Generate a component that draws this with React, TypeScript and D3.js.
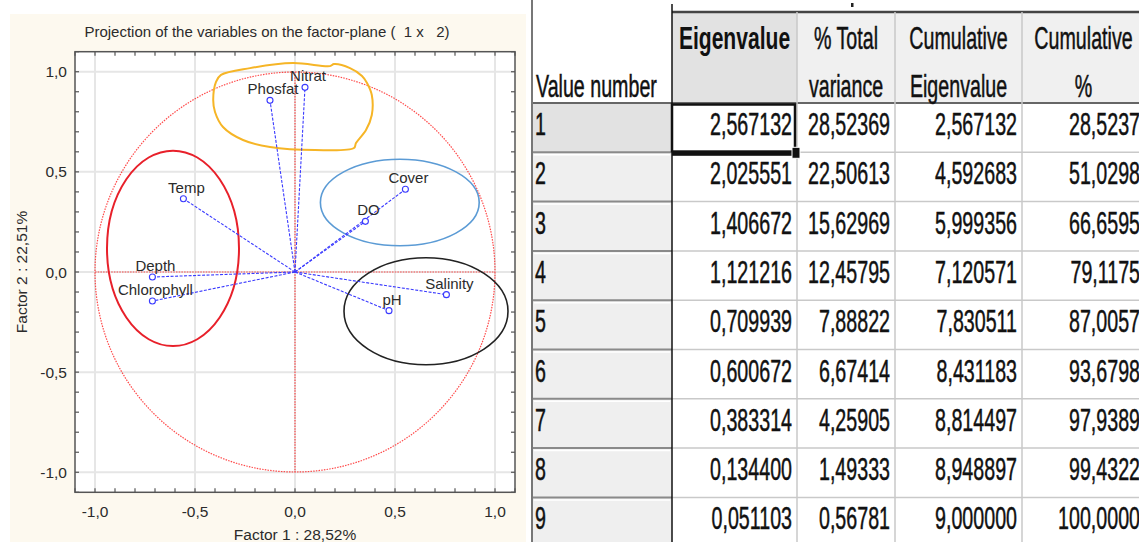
import React, { useRef, useEffect } from 'react';
import * as d3 from 'd3';

// Loadings of the variables on factors 1 and 2
const variableNames = ['Nitrat', 'Phosfat', 'Temp', 'Cover', 'DO', 'Depth', 'Chlorophyll', 'Salinity', 'pH'];
const factor1 = [0.05, -0.125, -0.558, 0.552, 0.352, -0.713, -0.713, 0.757, 0.47];
const factor2 = [0.922, 0.857, 0.366, 0.413, 0.253, -0.025, -0.145, -0.113, -0.193];

const majorTicks = [-1, -0.5, 0, 0.5, 1];

// Hand-drawn group markers (factor units): center x, center y, radius x, radius y
const groupEllipses = [
  { cx: -0.61, cy: 0.118, rx: 0.33, ry: 0.488, color: '#e8202a', width: 2 },
  { cx: 0.524, cy: 0.347, rx: 0.397, ry: 0.216, color: '#5b9bd5', width: 1.6 },
  { cx: 0.655, cy: -0.196, rx: 0.41, ry: 0.267, color: '#222222', width: 1.6 },
];
const freehandX = [-0.409, -0.395, -0.37, -0.225, -0.01, 0.175, 0.195, 0.275, 0.335, 0.36, 0.384, 0.384, 0.355, 0.305, 0.295, 0.1, -0.125, -0.26, -0.36, -0.4];
const freehandY = [0.859, 0.949, 0.984, 1.018, 1.043, 1.028, 1.038, 1.018, 0.979, 0.944, 0.884, 0.784, 0.709, 0.644, 0.619, 0.609, 0.624, 0.659, 0.724, 0.799];

// Eigenvalue table
const valueNumbers = ['1', '2', '3', '4', '5', '6', '7', '8', '9'];
const eigenvalues = ['2,567132', '2,025551', '1,406672', '1,121216', '0,709939', '0,600672', '0,383314', '0,134400', '0,051103'];
const pctTotal = ['28,52369', '22,50613', '15,62969', '12,45795', '7,88822', '6,67414', '4,25905', '1,49333', '0,56781'];
const cumEigen = ['2,567132', '4,592683', '5,999356', '7,120571', '7,830511', '8,431183', '8,814497', '8,948897', '9,000000'];
const cumPct = ['28,5237', '51,0298', '66,6595', '79,1175', '87,0057', '93,6798', '97,9389', '99,4322', '100,0000'];
const headers = [['', 'Value number'], ['Eigenvalue', ''], ['% Total', 'variance'], ['Cumulative', 'Eigenvalue'], ['Cumulative', '%']];

const W = 1139;
const H = 542;
const FONT = 'Liberation Sans, Arial, sans-serif';

const App = () => {
  const svgRef = useRef<SVGSVGElement>(null);

  useEffect(() => {
    if (!svgRef.current) return;
    const svg = d3.select(svgRef.current);
    svg.selectAll('*').remove();

    const locale = d3.formatLocale({ decimal: ',', thousands: '.', grouping: [3], currency: ['', ''], minus: '-' });
    const fmt = locale.format('.1f');

    // ---------- left panel: correlation circle ----------
    svg.append('rect').attr('x', 10).attr('y', 14).attr('width', 516).attr('height', H - 14).attr('fill', '#fdf9ef');

    const x = d3.scaleLinear().domain([-1.1, 1.1]).range([75, 515]);
    const y = d3.scaleLinear().domain([-1.1, 1.1]).range([492.3, 51.7]);

    svg.append('text')
      .attr('x', 267).attr('y', 37)
      .attr('text-anchor', 'middle')
      .attr('font-family', FONT).attr('font-size', 15).attr('fill', '#2b2b2b')
      .attr('xml:space', 'preserve')
      .text('Projection of the variables on the factor-plane (  1 x   2)');

    svg.append('rect')
      .attr('x', x(-1.1)).attr('y', y(1.1))
      .attr('width', x(1.1) - x(-1.1)).attr('height', y(-1.1) - y(1.1))
      .attr('fill', '#fff');

    // grid
    const grid = svg.append('g');
    grid.selectAll('line.gx').data(majorTicks).enter().append('line')
      .attr('x1', d => x(d)).attr('x2', d => x(d))
      .attr('y1', y(1.1)).attr('y2', y(-1.1))
      .attr('stroke', '#e6e6e6').attr('stroke-width', 2);
    grid.selectAll('line.gy').data(majorTicks).enter().append('line')
      .attr('x1', x(-1.1)).attr('x2', x(1.1))
      .attr('y1', d => y(d)).attr('y2', d => y(d))
      .attr('stroke', '#e6e6e6').attr('stroke-width', 2);

    // unit circle and zero lines
    const red = (sel: any) => sel
      .attr('fill', 'none').attr('stroke', '#ff2a2a').attr('stroke-width', 1.2)
      .attr('stroke-dasharray', '1.5,1.2').attr('opacity', 0.85);
    red(svg.append('circle').attr('cx', x(0)).attr('cy', y(0)).attr('r', x(1) - x(0)));
    red(svg.append('line').attr('x1', x(-1)).attr('x2', x(1)).attr('y1', y(0)).attr('y2', y(0)));
    red(svg.append('line').attr('x1', x(0)).attr('x2', x(0)).attr('y1', y(1)).attr('y2', y(-1)));

    // annotation shapes
    svg.append('g').selectAll('ellipse').data(groupEllipses).enter().append('ellipse')
      .attr('cx', d => x(d.cx)).attr('cy', d => y(d.cy))
      .attr('rx', d => x(d.rx) - x(0)).attr('ry', d => y(0) - y(d.ry))
      .attr('fill', 'none').attr('stroke', d => d.color).attr('stroke-width', d => d.width);

    const freehand = freehandX.map((v, i) => [v, freehandY[i]] as [number, number]);
    svg.append('path')
      .datum(freehand)
      .attr('d', d3.line<[number, number]>().x(d => x(d[0])).y(d => y(d[1])).curve(d3.curveCatmullRomClosed.alpha(0.5)))
      .attr('fill', 'none').attr('stroke', '#f6b526').attr('stroke-width', 2);

    // variable vectors
    const vectors = svg.append('g');
    variableNames.forEach((name, i) => {
      vectors.append('line')
        .attr('x1', x(0)).attr('y1', y(0))
        .attr('x2', x(factor1[i])).attr('y2', y(factor2[i]))
        .attr('stroke', '#3a3aff').attr('stroke-width', 1.1).attr('stroke-dasharray', '3,1.5');
    });
    variableNames.forEach((name, i) => {
      vectors.append('circle')
        .attr('cx', x(factor1[i])).attr('cy', y(factor2[i])).attr('r', 3)
        .attr('fill', '#fff').attr('stroke', '#3a3aff').attr('stroke-width', 1.1);
      vectors.append('text')
        .attr('x', x(factor1[i]) + 3).attr('y', y(factor2[i]) - 6)
        .attr('text-anchor', 'middle')
        .attr('font-family', FONT).attr('font-size', 15).attr('fill', '#2b2b2b')
        .text(name);
    });

    // frame and inner ticks every 0.1
    const minor = d3.range(-11, 12).map(k => k / 10);
    const ax = svg.append('g').attr('stroke', '#555').attr('stroke-width', 1.2);
    minor.forEach(t => {
      ax.append('line').attr('x1', x(t)).attr('x2', x(t)).attr('y1', y(1.1)).attr('y2', y(1.1) + 4);
      ax.append('line').attr('x1', x(t)).attr('x2', x(t)).attr('y1', y(-1.1)).attr('y2', y(-1.1) - 4);
      ax.append('line').attr('y1', y(t)).attr('y2', y(t)).attr('x1', x(-1.1)).attr('x2', x(-1.1) + 4);
      ax.append('line').attr('y1', y(t)).attr('y2', y(t)).attr('x1', x(1.1)).attr('x2', x(1.1) - 4);
    });
    svg.append('rect')
      .attr('x', x(-1.1)).attr('y', y(1.1))
      .attr('width', x(1.1) - x(-1.1)).attr('height', y(-1.1) - y(1.1))
      .attr('fill', 'none').attr('stroke', '#555').attr('stroke-width', 1.5);

    // tick labels
    svg.append('g').selectAll('text').data(majorTicks).enter().append('text')
      .attr('x', d => x(d)).attr('y', 517)
      .attr('text-anchor', 'middle')
      .attr('font-family', FONT).attr('font-size', 15.5).attr('fill', '#2b2b2b')
      .text(d => fmt(d));
    svg.append('g').selectAll('text').data(majorTicks).enter().append('text')
      .attr('x', 67).attr('y', d => y(d) + 5.5)
      .attr('text-anchor', 'end')
      .attr('font-family', FONT).attr('font-size', 15.5).attr('fill', '#2b2b2b')
      .text(d => fmt(d));

    svg.append('text')
      .attr('x', x(0)).attr('y', 540)
      .attr('text-anchor', 'middle')
      .attr('font-family', FONT).attr('font-size', 15.5).attr('fill', '#2b2b2b')
      .text('Factor 1 : 28,52%');
    svg.append('text')
      .attr('transform', `translate(27,${y(0)}) rotate(-90)`)
      .attr('text-anchor', 'middle')
      .attr('font-family', FONT).attr('font-size', 15.5).attr('fill', '#2b2b2b')
      .text('Factor 2 : 22,51%');

    // ---------- right panel: eigenvalue table ----------
    const colEdges = [532, 672, 797, 895, 1022, 1145];
    const headTop = 12;
    const rowY = d3.scaleLinear().domain([0, 1]).range([103, 152.3]);
    const tbl = svg.append('g');

    tbl.append('rect').attr('x', 526).attr('y', 0).attr('width', W - 526).attr('height', H).attr('fill', '#fff');

    // header cells
    [1, 2, 3, 4].forEach(c => {
      tbl.append('rect')
        .attr('x', colEdges[c]).attr('y', headTop)
        .attr('width', colEdges[c + 1] - colEdges[c]).attr('height', rowY(0) - headTop)
        .attr('fill', c === 1 ? '#e2e2e2' : '#f0f0f0');
    });

    // row-number cells
    valueNumbers.forEach((v, i) => {
      tbl.append('rect')
        .attr('x', colEdges[0]).attr('y', rowY(i))
        .attr('width', colEdges[1] - colEdges[0]).attr('height', rowY(i + 1) - rowY(i))
        .attr('fill', i === 0 ? '#e2e2e2' : '#efefef');
    });

    // horizontal lines
    valueNumbers.forEach((v, i) => {
      const yy = rowY(i + 1);
      tbl.append('line').attr('x1', colEdges[1]).attr('x2', W).attr('y1', yy).attr('y2', yy)
        .attr('stroke', '#c9c9c9').attr('stroke-width', 1.5);
      tbl.append('line').attr('x1', colEdges[0]).attr('x2', colEdges[1]).attr('y1', yy).attr('y2', yy)
        .attr('stroke', '#8a8a8a').attr('stroke-width', 2);
      tbl.append('line').attr('x1', colEdges[0] + 2).attr('x2', colEdges[1] - 2).attr('y1', yy + 2.5).attr('y2', yy + 2.5)
        .attr('stroke', '#fff').attr('stroke-width', 1.5);
    });
    tbl.append('line').attr('x1', colEdges[0]).attr('x2', W).attr('y1', rowY(0)).attr('y2', rowY(0))
      .attr('stroke', '#666').attr('stroke-width', 2);
    tbl.append('line').attr('x1', colEdges[1]).attr('x2', W).attr('y1', headTop).attr('y2', headTop)
      .attr('stroke', '#444').attr('stroke-width', 2.5);

    // vertical lines
    [2, 3, 4].forEach(c => {
      tbl.append('line').attr('x1', colEdges[c]).attr('x2', colEdges[c]).attr('y1', headTop).attr('y2', H)
        .attr('stroke', '#c9c9c9').attr('stroke-width', 1.5);
    });
    tbl.append('line').attr('x1', colEdges[1]).attr('x2', colEdges[1]).attr('y1', 4).attr('y2', H)
      .attr('stroke', '#111').attr('stroke-width', 1.5);
    tbl.append('line').attr('x1', colEdges[0]).attr('x2', colEdges[0]).attr('y1', 0).attr('y2', H)
      .attr('stroke', '#777').attr('stroke-width', 2);
    tbl.append('rect').attr('x', 851).attr('y', 3).attr('width', 2.5).attr('height', 4).attr('fill', '#222');

    // selected cell
    tbl.append('path')
      .attr('d', `M${colEdges[1]},${rowY(1)} V${rowY(0) + 1.5} H${colEdges[2] - 2} V${rowY(1)}`)
      .attr('fill', 'none').attr('stroke', '#111').attr('stroke-width', 2.5);
    tbl.append('rect').attr('x', colEdges[1]).attr('y', rowY(1) - 2).attr('width', colEdges[2] - colEdges[1]).attr('height', 5.5).attr('fill', '#111');
    tbl.append('rect').attr('x', colEdges[2] - 5).attr('y', rowY(1) - 5).attr('width', 8).attr('height', 11).attr('fill', '#111')
      .attr('stroke', '#fff').attr('stroke-width', 1);

    // text helpers
    const cellText = (txt: string, px: number, py: number, anchor: string, bold = false) => {
      tbl.append('text')
        .attr('transform', `translate(${px},${py}) scale(${bold ? 0.665 : 0.62},1)`)
        .attr('text-anchor', anchor)
        .attr('font-family', FONT).attr('font-size', 31.7)
        .attr('font-weight', bold ? 'bold' : 'normal')
        .attr('fill', '#111').attr('stroke', '#111').attr('stroke-width', bold ? 0 : 0.5)
        .text(txt);
    };

    headers.forEach((h, c) => {
      if (c === 0) {
        cellText(h[1], colEdges[0] + 4, 97, 'start');
        return;
      }
      const cx = (colEdges[c] + colEdges[c + 1]) / 2;
      if (h[0]) cellText(h[0], cx, 49, 'middle', c === 1);
      if (h[1]) cellText(h[1], cx, 97, 'middle');
    });

    const columns = [eigenvalues, pctTotal, cumEigen, cumPct];
    valueNumbers.forEach((v, i) => {
      const base = rowY(i) + 32;
      cellText(v, colEdges[0] + 3, base, 'start');
      columns.forEach((col, k) => {
        cellText(col[i], colEdges[k + 2] - 5, base, 'end');
      });
    });
  }, []);

  return (
    <div style={{ position: 'absolute', left: 0, top: 0, width: W, height: H, background: '#fff' }}>
      <svg ref={svgRef} width={W} height={H} style={{ display: 'block' }}></svg>
    </div>
  );
};

export default App;
